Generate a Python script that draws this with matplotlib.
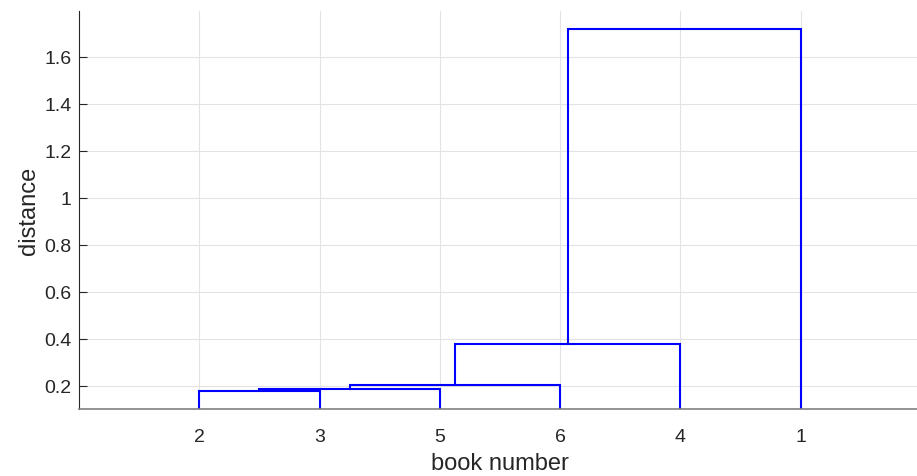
import matplotlib.pyplot as plt

plt.rcParams['font.family'] = ['Liberation Sans', 'DejaVu Sans']

# leaf order along the x axis and the merge heights of the hierarchical clustering
leaf_labels = ["2", "3", "5", "6", "4", "1"]
merge_heights = [0.176, 0.187, 0.203, 0.375, 1.719]

# each merge joins the growing cluster with the next leaf in the order
fig = plt.figure(figsize=(9.17, 4.77), dpi=100)
ax = fig.add_axes([79 / 917, 67 / 477, 842 / 917, 398 / 477])

positions = {lbl: i + 1 for i, lbl in enumerate(leaf_labels)}
heights = {lbl: 0.0 for lbl in leaf_labels}

cur_x = positions[leaf_labels[0]]
cur_h = 0.0
for lbl, h in zip(leaf_labels[1:], merge_heights):
    x2 = positions[lbl]
    ax.plot([cur_x, cur_x, x2, x2], [cur_h, h, h, heights[lbl]],
            color=(0, 0, 1), lw=1.5, solid_joinstyle="miter")
    cur_x = (cur_x + x2) / 2
    cur_h = h

ax.set_xlim(0, 7)
ax.set_ylim(0.1, 1.796)
ax.set_xticks(range(1, len(leaf_labels) + 1))
ax.set_xticklabels(leaf_labels)
ax.set_yticks([0.2, 0.4, 0.6, 0.8, 1.0, 1.2, 1.4, 1.6])
ax.set_yticklabels(["0.2", "0.4", "0.6", "0.8", "1", "1.2", "1.4", "1.6"])

ax.grid(True, color="#e3e3e3", lw=0.8)
ax.set_axisbelow(True)
for s in ("top", "right"):
    ax.spines[s].set_visible(False)
ax.spines["left"].set_color("#262626")
ax.spines["bottom"].set_color("#808080")
ax.spines["bottom"].set_linewidth(1.2)
ax.tick_params(axis="both", direction="in", length=6, labelsize=14,
               colors="#262626", pad=5.5)
ax.tick_params(axis="x", length=0, pad=14)

ax.set_xlabel("book number", fontsize=17, color="#262626", labelpad=5)
ax.set_ylabel("distance", fontsize=17, color="#262626", labelpad=3)

fig.savefig("out.png", dpi=100)
